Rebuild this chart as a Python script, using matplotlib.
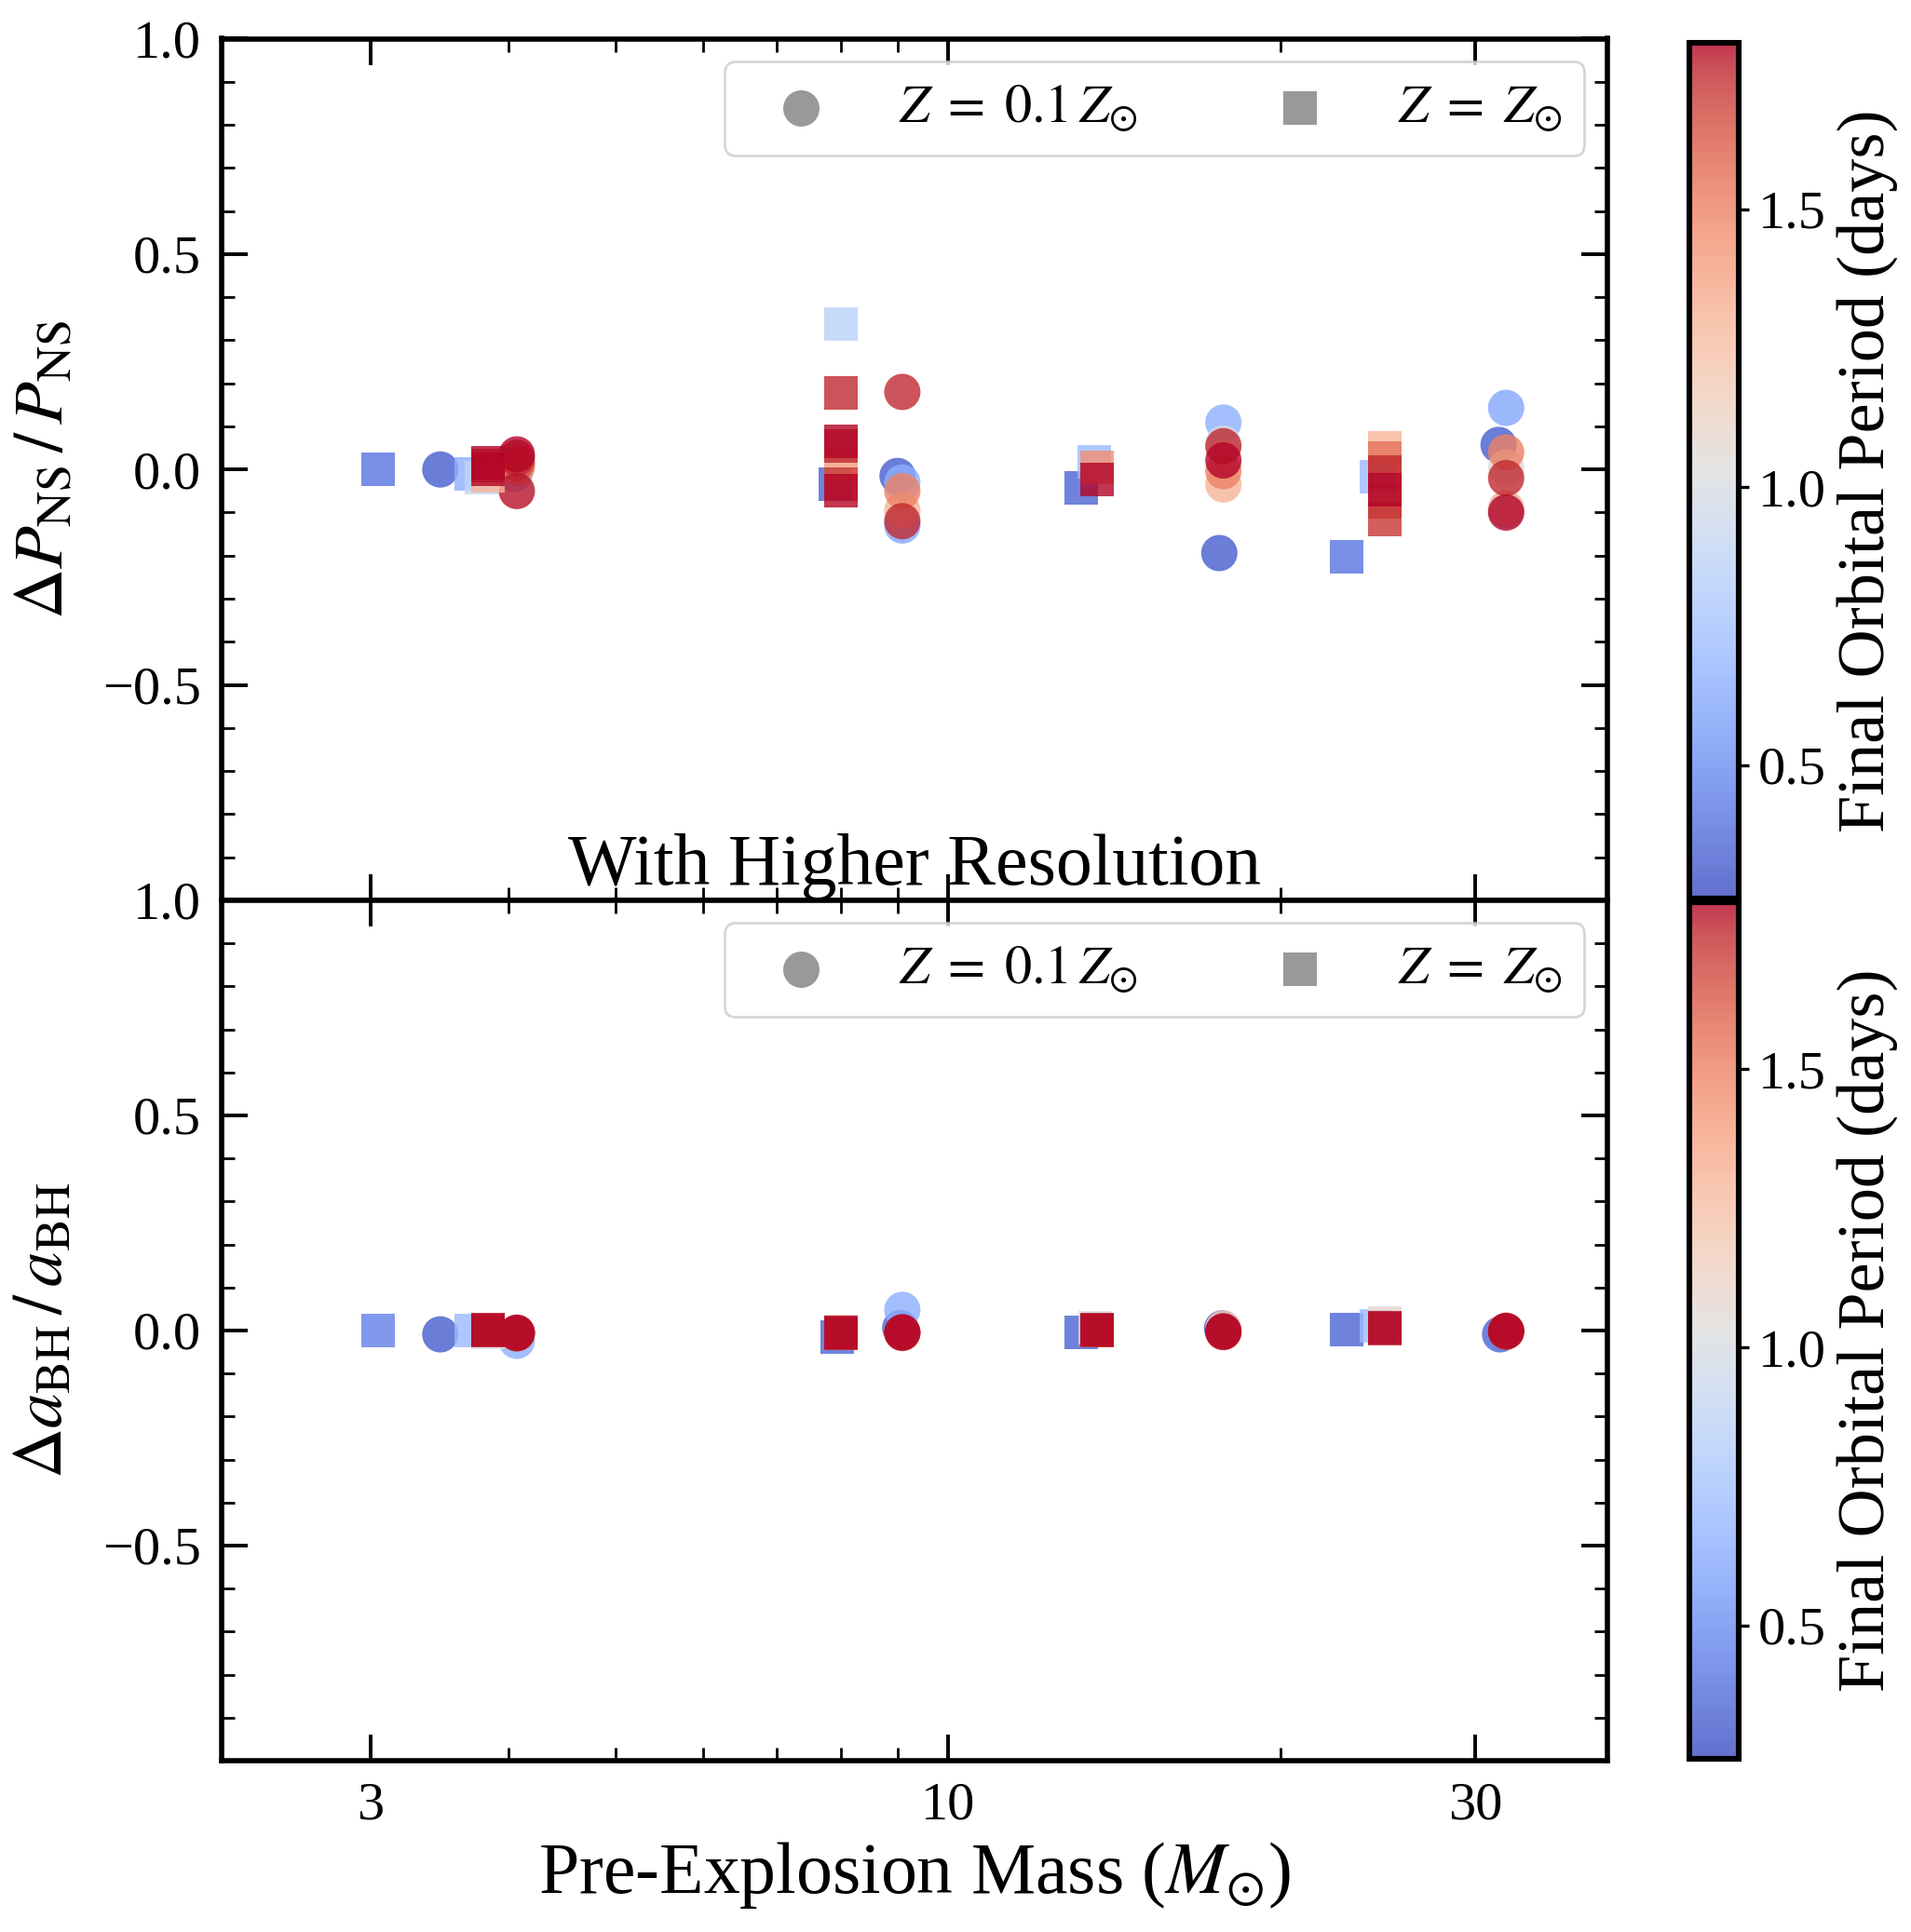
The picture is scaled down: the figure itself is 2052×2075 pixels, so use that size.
import numpy as np
import matplotlib
matplotlib.use('Agg')
import matplotlib.pyplot as plt
from matplotlib.colors import Normalize
from matplotlib.ticker import FixedLocator, FixedFormatter, NullFormatter, MultipleLocator, LogLocator

plt.rcParams['font.family'] = 'serif'
plt.rcParams['font.serif'] = ['Liberation Serif', 'DejaVu Serif']
plt.rcParams['mathtext.fontset'] = 'stix'

# ---- top panel: Delta P_NS / P_NS ----
# Z = 0.1 Zsun (circles)
m_p_lo = [3.47, 4.05, 4.07, 4.07, 4.07, 4.07, 4.07,
          9.0, 9.09, 9.09, 9.09, 9.09, 9.09, 9.09,
          17.6, 17.75, 17.75, 17.75, 17.75, 17.75, 17.75,
          31.5, 32.0, 32.0, 32.0, 32.0, 32.0, 32.0, 32.0]
dp_lo = [0.0, -0.01, 0.005, 0.015, 0.027, 0.035, -0.05,
         -0.015, -0.03, -0.05, -0.095, -0.12, -0.13, 0.18,
         -0.194, 0.109, 0.06, -0.035, -0.004, 0.054, 0.021,
         0.057, 0.143, -0.095, 0.005, -0.09, 0.04, -0.02, -0.1]
per_p_lo = [0.32, 0.65, 1.45, 1.65, 1.75, 1.8, 1.78,
            0.32, 0.65, 1.5, 1.3, 1.75, 0.6, 1.75,
            0.32, 0.65, 1.0, 1.3, 1.5, 1.75, 1.8,
            0.32, 0.6, 0.7, 1.05, 1.3, 1.5, 1.75, 1.8]

# Z = Zsun (squares)
m_p_hi = [3.05, 3.70, 3.78, 3.83, 3.83, 3.83, 3.83,
          7.9, 8.0, 8.0, 8.0, 8.0, 8.0, 8.0, 8.0,
          13.2, 13.55, 13.65, 13.65,
          22.97, 24.4, 24.85, 24.85, 24.85, 24.85, 24.85, 24.85]
dp_hi = [0.0, -0.01, -0.02, -0.015, 0.01, 0.015, 0.0,
         -0.035, 0.337, 0.01, 0.177, 0.065, 0.054, -0.035, -0.05,
         -0.042, 0.017, 0.004, -0.024,
         -0.203, -0.016, 0.051, 0.027, -0.007, -0.048, -0.075, -0.117]
per_p_hi = [0.4, 0.65, 0.9, 1.3, 1.7, 1.8, 1.8,
            0.35, 0.85, 1.4, 1.75, 1.8, 1.75, 1.7, 1.8,
            0.35, 0.7, 1.45, 1.8,
            0.4, 0.7, 1.3, 1.55, 1.75, 1.8, 1.7, 1.72]

# ---- bottom panel: Delta a_BH / a_BH ----
m_a_lo = [3.47, 4.07, 4.07, 4.07, 4.07,
          9.05, 9.09, 9.09, 9.09, 9.09,
          17.7, 17.75, 17.75, 17.75, 17.75,
          31.6, 32.0, 32.0, 32.0, 32.0]
da_lo = [-0.009, -0.024, -0.007, -0.006, -0.005,
         0.006, 0.048, -0.006, -0.005, -0.004,
         0.005, 0.005, -0.004, -0.003, -0.002,
         -0.009, 0.0, -0.003, -0.002, -0.001]
per_a_lo = [0.32, 0.65, 1.7, 1.75, 1.8,
            0.35, 0.65, 1.7, 1.75, 1.8,
            0.35, 1.2, 1.7, 1.75, 1.8,
            0.35, 1.3, 1.7, 1.75, 1.8]

m_a_hi = [3.05, 3.70, 3.83, 3.83, 3.83, 3.83,
          7.93, 8.0, 8.0, 8.0, 8.0,
          13.2, 13.6, 13.65, 13.65, 13.65,
          22.97, 24.4, 24.85, 24.85, 24.85]
da_hi = [0.0, 0.0, -0.005, 0.0, 0.0, 0.001,
         -0.016, -0.003, -0.007, -0.006, -0.005,
         -0.004, 0.006, 0.0, 0.0, 0.001,
         0.002, 0.011, 0.017, 0.005, 0.006]
per_a_hi = [0.45, 0.7, 1.0, 1.7, 1.75, 1.8,
            0.35, 1.2, 1.7, 1.75, 1.8,
            0.35, 1.0, 1.7, 1.75, 1.8,
            0.35, 0.7, 1.1, 1.75, 1.8]

yticks = [-0.5, 0.0, 0.5, 1.0]
xticks = [3, 10, 30]
xticklabels = ['3', '10', '30']

norm = Normalize(vmin=0.26, vmax=1.8)
cmap = 'coolwarm'
S_CIRC = 197
S_SQ = 168


def draw(ax, m_lo, y_lo, p_lo, m_hi, y_hi, p_hi):
    o = np.argsort(p_lo, kind='stable')
    sc = ax.scatter(np.array(m_lo)[o], np.array(y_lo)[o], c=np.array(p_lo)[o], cmap=cmap, norm=norm,
                    s=S_CIRC, marker='o', alpha=0.8, linewidths=0, zorder=3)
    o = np.argsort(p_hi, kind='stable')
    ax.scatter(np.array(m_hi)[o], np.array(y_hi)[o], c=np.array(p_hi)[o], cmap=cmap, norm=norm,
               s=S_SQ, marker='s', alpha=0.8, linewidths=0, zorder=3)
    ax.scatter([], [], s=S_CIRC, c='gray', marker='o', alpha=0.8, linewidths=0,
               label=r'$Z\;=\;0.1\,Z_{\odot}$')
    ax.scatter([], [], s=S_SQ, c='gray', marker='s', alpha=0.8, linewidths=0,
               label=r'$Z\;=\;Z_{\odot}$')
    ax.legend(loc='upper right', ncol=2, fontsize=21, handletextpad=0.8,
              columnspacing=2.0, borderaxespad=0.42, borderpad=0.4, scatterpoints=1)

    ax.set_xscale('log')
    ax.set_xlim(2.2, 39.5)
    ax.set_ylim(-1.0, 1.0)
    ax.xaxis.set_major_locator(FixedLocator(xticks))
    ax.xaxis.set_major_formatter(FixedFormatter(xticklabels))
    ax.xaxis.set_minor_locator(LogLocator(subs=np.arange(2, 10)))
    ax.xaxis.set_minor_formatter(NullFormatter())
    ax.yaxis.set_major_locator(FixedLocator(yticks))
    ax.yaxis.set_minor_locator(MultipleLocator(0.1))
    ax.tick_params(which='both', direction='in', top=True, right=True)
    ax.tick_params(which='major', length=10, width=1.4, labelsize=21, pad=8)
    ax.tick_params(which='minor', length=5, width=1.0)
    for sp in ax.spines.values():
        sp.set_linewidth(2.0)
    return sc


fig = plt.figure(figsize=(10.26, 10.375), dpi=200)
ax1 = fig.add_axes([0.116, 0.534, 0.725, 0.446])
ax2 = fig.add_axes([0.116, 0.0887, 0.725, 0.4453])
cax1 = fig.add_axes([0.884, 0.535, 0.026, 0.443])
cax2 = fig.add_axes([0.884, 0.0895, 0.026, 0.4435])

sc1 = draw(ax1, m_p_lo, dp_lo, per_p_lo, m_p_hi, dp_hi, per_p_hi)
sc2 = draw(ax2, m_a_lo, da_lo, per_a_lo, m_a_hi, da_hi, per_a_hi)

ax1.tick_params(labelbottom=False)
ax1.set_ylabel(r'$\Delta P_{\rm NS}\,/\,P_{\rm NS}$', fontsize=27, labelpad=10)
ax2.set_ylabel(r'$\Delta a_{\rm BH}\,/\,a_{\rm BH}$', fontsize=27, labelpad=10)
ax2.set_xlabel(r'Pre-Explosion Mass ($M_{\odot}$)', fontsize=28)
ax2.set_title('With Higher Resolution', fontsize=28, pad=5)

for sc, cax in [(sc1, cax1), (sc2, cax2)]:
    cb = fig.colorbar(sc, cax=cax)
    cb.set_ticks([0.5, 1.0, 1.5])
    cb.set_label('Final Orbital Period (days)', fontsize=26)
    cb.ax.tick_params(labelsize=21, length=4, width=1.2, direction='out')
    cb.outline.set_linewidth(2.2)

fig.savefig('out.png', dpi=200)
